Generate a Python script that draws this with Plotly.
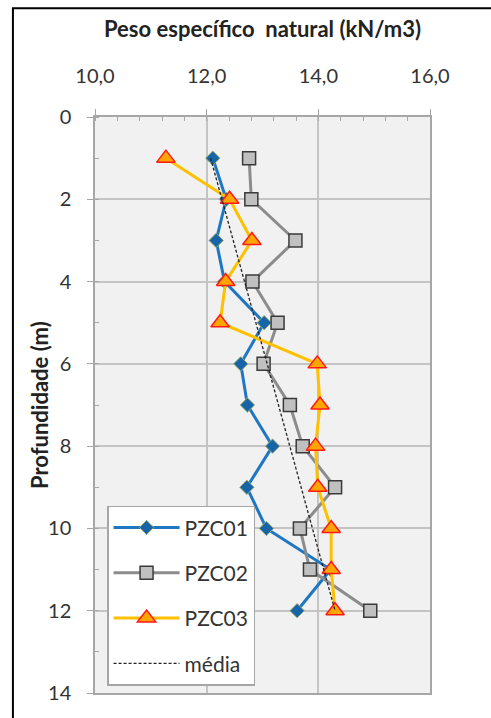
import plotly.graph_objects as go

depth = [1, 2, 3, 4, 5, 6, 7, 8, 9, 10, 11, 12]
pzc01 = [12.11, 12.35, 12.17, 12.32, 13.03, 12.61, 12.73, 13.18, 12.72, 13.07, 14.22, 13.62]
pzc02 = [12.76, 12.80, 13.59, 12.82, 13.27, 13.02, 13.49, 13.72, 14.30, 13.67, 13.85, 14.93]
pzc03 = [11.27, 12.41, 12.81, 12.34, 12.24, 13.98, 14.03, 13.95, 13.99, 14.23, 14.23, 14.30]
media_depth = [1, 12]
media = [12.07, 14.30]

x_ticks = [10, 12, 14, 16]
y_ticks = [0, 2, 4, 6, 8, 10, 12, 14]

FONT = "Lato"

fig = go.Figure()
fig.add_trace(go.Scatter(
    x=pzc01, y=depth, name="PZC01", mode="lines+markers", legendgroup="a",
    line=dict(color="#1f77c4", width=3),
    marker=dict(symbol="diamond", size=11, color="#1565a8", line=dict(color="#9aa86a", width=1)),
))
fig.add_trace(go.Scatter(
    x=pzc02, y=depth, name="PZC02", mode="lines+markers", legendgroup="b",
    line=dict(color="#8c8c8c", width=3),
    marker=dict(symbol="square", size=13, color="#c0c0c0", line=dict(color="#3a3a3a", width=1.5)),
))
fig.add_trace(go.Scatter(
    x=pzc03, y=depth, name="PZC03", mode="lines+markers", legendgroup="c",
    line=dict(color="#ffc000", width=3),
    marker=dict(symbol="triangle-up", size=16, color="#ffa500", line=dict(color="#ff1a1a", width=1.5)),
))
fig.add_trace(go.Scatter(
    x=media, y=media_depth, name="média", mode="lines", legendgroup="d",
    line=dict(color="#222222", width=1.3, dash="3px,2px"),
))

fig.update_layout(
    width=491, height=718,
    margin=dict(l=95, r=61, t=117, b=25, autoexpand=False),
    paper_bgcolor="white", plot_bgcolor="#f1f1f1",
    separators=",.",
    font=dict(family=FONT, size=20, color="#333333"),
    showlegend=True,
    legend=dict(
        x=0.036, y=0.325, xanchor="left", yanchor="top",
        bgcolor="white", bordercolor="#a6a6a6", borderwidth=1.5,
        font=dict(family=FONT, size=21, color="#333333"),
        traceorder="grouped", tracegroupgap=15, itemwidth=66,
    ),
    xaxis=dict(
        side="top", range=[10, 16], tickvals=x_ticks, tickformat=".1f",
        automargin=False,
        showgrid=True, gridcolor="#c4c4c4", gridwidth=1.5,
        showline=True, linecolor="#a6a6a6", linewidth=1.5, mirror=True,
        ticks="outside", ticklen=6, tickcolor="#a6a6a6", ticklabelstandoff=18,
        minor=dict(dtick=0.4, ticks="inside", ticklen=4, tickcolor="#a6a6a6", showgrid=False),
        zeroline=False,
        title=dict(text="<b>Peso específico  natural (kN/m3)</b>", standoff=20,
                   font=dict(family=FONT, size=22, color="#222222")),
    ),
    yaxis=dict(
        range=[14, 0], tickvals=y_ticks,
        automargin=False,
        showgrid=True, gridcolor="#c4c4c4", gridwidth=1.5,
        showline=True, linecolor="#a6a6a6", linewidth=1.5, mirror=True,
        ticks="outside", ticklen=6, tickcolor="#a6a6a6", ticklabelstandoff=12,
        minor=dict(dtick=1, ticks="inside", ticklen=4, tickcolor="#a6a6a6", showgrid=False),
        zeroline=False,
    ),
    annotations=[dict(text="<b>Profundidade (m)</b>", textangle=-90, showarrow=False,
                      xref="paper", yref="paper", x=-0.167, y=0.5,
                      xanchor="center", yanchor="middle",
                      font=dict(family=FONT, size=22, color="#222222"))],
    shapes=[dict(type="rect", xref="paper", yref="paper",
                 x0=-0.245, y0=1.189, x1=2.0, y1=-1.0,
                 line=dict(color="black", width=2), fillcolor="rgba(0,0,0,0)", layer="above")],
)

fig.write_html("out.html", config={"displayModeBar": False},
               post_script="document.body.style.margin='0';document.body.style.overflow='hidden';")
